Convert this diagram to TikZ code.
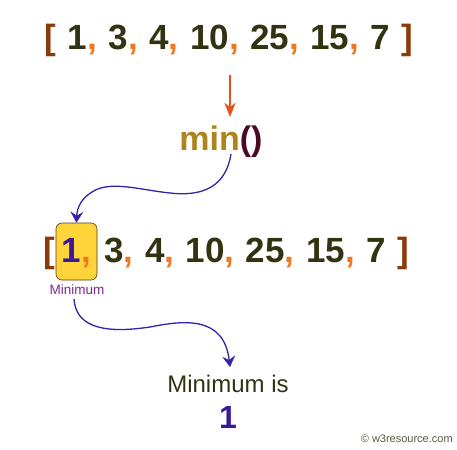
\documentclass[tikz,border=0pt]{standalone}
\usepackage{fontspec}
\setmainfont{Liberation Sans}
\usetikzlibrary{arrows,arrows.meta}
\definecolor{numcol}{HTML}{333311}
\definecolor{commacol}{HTML}{F07820}
\definecolor{bktcol}{HTML}{8B3A0A}
\definecolor{mincol}{HTML}{B0841C}
\definecolor{parcol}{HTML}{4A0A24}
\definecolor{pointcol}{HTML}{E8501C}
\definecolor{flowcol}{HTML}{3A22A8}
\definecolor{boxcol}{HTML}{FFD43B}
\definecolor{boxline}{HTML}{5A3A10}
\definecolor{onecol}{HTML}{3A1A9A}
\definecolor{lblcol}{HTML}{7A2A8A}
\newcommand{\sepc}{\textcolor{commacol}{,}}
\newcommand{\gap}{\hspace{0.33em}}
\newcommand{\bkt}[1]{\textcolor{bktcol}{#1}}

\begin{document}
\begin{tikzpicture}[x=1pt,y=-1pt,semithick,
                    every node/.style={inner sep=0pt},
                    biglist/.style={font=\fontsize{35}{40}\selectfont\bfseries,text=numcol},
                    minbox/.style={draw=boxline,fill=boxcol,rounded corners=6pt,
                                   minimum width=41pt,minimum height=57pt},
                    flow/.style={-{Stealth[length=11pt,width=13pt,inset=4pt]},
                                 draw=flowcol,line width=1.3pt}]
  \useasboundingbox[fill=white] (0,0) rectangle (457,449);

  % top list and min()
  \node[biglist,anchor=base] (list)  at (229,50)
        {\bkt{[}\gap 1\sepc\gap 3\sepc\gap 4\sepc\gap 10\sepc\gap 25\sepc\gap 15\sepc\gap 7\gap\bkt{]}};
  \coordinate (ptop) at (230,75);
  \coordinate (pend) at (230,117);
  \node[font=\fontsize{34}{40}\selectfont\bfseries,anchor=base] (min) at (221,150)
        {\textcolor{mincol}{min}\textcolor{parcol}{()}};
  \draw[-{Stealth[length=14pt,width=11pt,inset=4pt]},draw=pointcol,line width=2pt]
        (ptop) -- (pend);

  % second list
  \node[minbox] (one) at (76.5,251.5) {};
  \node[biglist,anchor=base] (onetxt) at (76.5,262) {\textcolor{onecol}{1}\sepc};
  \node[biglist,anchor=base east] (lbkt) at (55,262) {\bkt{[}};
  \node[biglist,anchor=base west] (rest) at (104,262)
        {3\sepc\gap 4\sepc\gap 10\sepc\gap 25\sepc\gap 15\sepc\gap 7\gap\bkt{]}};
  \node[font=\fontsize{13.5}{16}\selectfont,text=lblcol] (lbl) at (77,290) {Minimum};

  % result
  \node[font=\fontsize{24}{28}\selectfont,text=numcol,anchor=base] (res) at (228,392) {Minimum is};
  \node[font=\fontsize{32}{36}\selectfont\bfseries,text=onecol,anchor=base] (resval) at (228,428) {1};

  \node[font=\fontsize{11}{13}\selectfont,text=numcol!80,anchor=base east] (copy) at (453,442)
        {\textcopyright\ w3resource.com};

  % curved connectors
  \coordinate (fromA) at (231,154);
  \coordinate (fromB) at (74,299);
  \coordinate (toB)   at (230,367);
  \draw[flow] (fromA) .. controls (226,185) and (205,197) .. (170,193)
        .. controls (140,190) and (110,180) .. (92,192)
        .. controls (82,198) and (77,207) .. (one.north);
  \draw[flow] (fromB) .. controls (76,330) and (110,333) .. (150,327)
        .. controls (185,320) and (224,316) .. (toB);
\end{tikzpicture}
\end{document}
